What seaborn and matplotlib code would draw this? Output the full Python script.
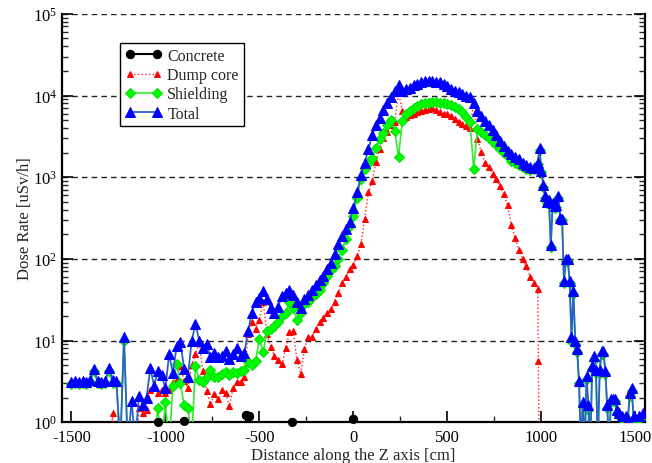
import matplotlib
matplotlib.use("Agg")
import matplotlib.pyplot as plt
import seaborn as sns
import pandas as pd
from matplotlib.ticker import MultipleLocator, LogLocator, NullFormatter

# ---------------- data ----------------
x_main = list(range(-1500, 941, 20)) + list(range(960, 1541, 10))

total = [
    3.1, 3.2, 3.1, 3.2, 3.1, 3.3, 4.5, 3.2, 3.1, 3.2,
    4.6, 3.3, 3.2, 0.5, 11, 0.5, 1.8, 0.6, 2.1, 1.6,
    2.0, 4.6, 2.8, 4.2, 3.8, 2.6, 6.8, 4.0, 8.5, 9.5,
    4.5, 3.6, 10, 16, 10, 8.0, 9.0, 6.2, 7.0, 6.3,
    6.5, 7.5, 6.0, 6.8, 8.0, 6.5, 7.0, 13, 22, 30,
    33, 40, 32, 25, 22, 26, 35, 38, 42, 36,
    30, 25, 32, 36, 42, 48, 55, 62, 75, 90,
    115, 150, 190, 230, 282, 420, 650, 1050, 1500, 2200,
    3300, 4300, 5300, 6600, 8000, 9500, 11500, 13500, 11500, 12000,
    12500, 13500, 14000, 14500, 15000, 15000, 15000, 14500, 14500, 14000,
    13000, 12000, 11500, 11000, 10500, 10000, 9500, 8000, 6500, 5600,
    4900, 4300, 3800, 3300, 2800, 2400, 2100, 1900, 1750, 1650,
    1500, 1400, 1320,
    # 960 .. 1540 step 10
    1300, 1350, 1500, 2250, 1200, 800, 580, 500, 520, 148,
    480, 440, 450, 590, 320, 310, 54, 100, 100, 54,
    11, 40, 9.8, 7.8, 3.2, 0.5, 1.75, 0.5, 3.7, 1.6,
    0.5, 4.9, 6.4, 4.4, 0.5, 4.4, 7.4, 7.4, 4.2, 1.6,
    0.5, 1.9, 1.9, 1.9, 1.4, 1.3, 0.5, 1.2, 0.5, 1.2,
    1.1, 2.3, 2.6, 1.2, 0.5, 0.5, 1.2, 0.5, 1.3,
]

shielding = [
    2.9, 3.0, 2.9, 3.0, 2.9, 3.1, 4.2, 3.0, 2.9, 3.0,
    4.2, 3.0, 3.0, 0.5, 10, 0.5, 0.5, 0.5, 0.5, 0.5,
    0.5, 0.5, 0.6, 1.5, 0.5, 1.75, 0.5, 2.8, 5.1, 3.0,
    1.6, 1.5, 0.6, 4.9, 3.3, 3.1, 3.6, 4.4, 3.6, 3.6,
    3.9, 4.1, 3.8, 4.1, 4.0, 4.2, 4.4, 5.4, 5.0, 5.6,
    10.4, 7.2, 13, 14, 15, 17, 20, 22, 30, 25,
    18, 22, 28, 30, 34, 37, 42, 50, 62, 72,
    81, 100, 130, 175, 250, 335, 560, 950, 1250, 1500,
    1700, 2300, 2900, 3500, 4300, 5000, 3700, 1770, 4900, 5900,
    6500, 7000, 7500, 7800, 8000, 8200, 8300, 8300, 8200, 8000,
    7900, 7600, 7200, 6800, 6300, 5500, 4750, 1260, 3900, 3600,
    3300, 3000, 2700, 2450, 2200, 2000, 1800, 1600, 1500, 1400,
    1320, 1260, 1220,
    # 960 .. 1540 step 10
    1250, 1300, 1450, 2150, 1150, 760, 560, 480, 500, 140,
    460, 420, 430, 560, 300, 300, 50, 95, 95, 50,
    10, 37, 9, 7.2, 3.0, 0.5, 1.6, 0.5, 3.4, 1.4,
    0.5, 4.5, 5.8, 4.0, 0.5, 4.0, 6.8, 6.8, 3.9, 1.5,
    0.5, 1.8, 1.8, 1.8, 1.3, 1.2, 0.5, 1.1, 0.5, 1.1,
    1.0, 2.1, 2.4, 1.1, 0.5, 0.5, 1.1, 0.5, 1.2,
]

x_dump = list(range(-1300, 981, 20)) + [984, 988]
dump_core = [
    0.3, 1.3, 0.3, 0.3, 0.3, 0.3, 0.3, 0.3, 1.5, 1.3,
    1.4, 2.5, 2.7, 2.3, 2.5, 2.3, 2.5, 3.1, 3.3, 4.9,
    3.2, 2.6, 5.0, 6.8, 9.5, 4.2, 2.4, 1.66, 2.2, 1.9,
    2.5, 2.3, 1.57, 2.6, 3.1, 3.1, 3.6, 12, 16.7, 14,
    18, 30, 12, 8.3, 6.5, 5.8, 5.1, 8.0, 12.6, 13,
    5.7, 3.9, 7.9, 11, 11, 14, 16.7, 19, 22, 24,
    30, 38, 50, 60, 75, 85, 108, 150, 310, 650,
    900, 1540, 2230, 3000, 3560, 4300, 4750, 11000, 6500, 5500,
    5800, 6000, 6300, 6500, 6700, 6900, 7000, 6600, 6300, 6000,
    5900, 5600, 5200, 4750, 4500, 4260, 4000, 8300, 2950, 2040,
    1500, 1350, 1100, 950, 780, 620, 450, 260, 180, 130,
    100, 81, 60, 50, 43,
    5.6, 0.3,
]

x_concrete = [-1050, -1040, -1030, -910, -900, -890, -580, -570, -555, -545,
              -335, -325, -315, -10, 0, 10]
concrete = [0.1, 1.0, 0.1, 0.1, 1.02, 0.1, 0.1, 1.22, 1.18, 0.1,
            0.1, 1.0, 0.1, 0.1, 1.08, 0.1]

df_main = pd.DataFrame({"z": x_main, "total": total, "shield": shielding})
df_dump = pd.DataFrame({"z": x_dump, "dump": dump_core})
df_conc = pd.DataFrame({"z": x_concrete, "conc": concrete})

# ---------------- style ----------------
sns.set_style("ticks")
plt.rcParams["font.family"] = ["Liberation Serif", "DejaVu Serif"]
plt.rcParams["mathtext.fontset"] = "custom"
plt.rcParams["mathtext.rm"] = "Liberation Serif"
plt.rcParams["mathtext.it"] = "Liberation Serif:italic"
plt.rcParams["axes.unicode_minus"] = False

fig = plt.figure(figsize=(6.52, 4.64), dpi=100)
ax = fig.add_axes([0.095, 0.088, 0.894, 0.880])
ax.set_yscale("log")

sns.lineplot(data=df_conc, x="z", y="conc", ax=ax, label="Concrete",
             color="black", lw=1.5, marker="o", markersize=6,
             markerfacecolor="black", markeredgecolor="black", zorder=3)
vis = df_conc[df_conc["conc"] >= 1]
sns.scatterplot(data=vis, x="z", y="conc", ax=ax, color="black", s=36,
                edgecolor="black", clip_on=False, zorder=6, legend=False)

sns.lineplot(data=df_dump, x="z", y="dump", ax=ax, label="Dump core",
             color="#ff2020", lw=1.0, linestyle=":", marker="^", markersize=4.5,
             markerfacecolor="red", markeredgecolor="red", zorder=4)
sns.lineplot(data=df_main, x="z", y="shield", ax=ax, label="Shielding",
             color="#33e833", lw=1.2, marker="D", markersize=5.5,
             markerfacecolor="#00ff00", markeredgecolor="#00e000", zorder=4)
sns.lineplot(data=df_main, x="z", y="total", ax=ax, label="Total",
             color="#2a62c8", lw=1.3, marker="^", markersize=7.5,
             markerfacecolor="blue", markeredgecolor="blue", zorder=5)

ax.set_xlim(-1550, 1550)
ax.set_ylim(1, 1e5)

ax.xaxis.set_major_locator(MultipleLocator(500))
ax.xaxis.set_minor_locator(MultipleLocator(250))
ax.yaxis.set_major_locator(LogLocator(base=10, numticks=10))
ax.yaxis.set_minor_locator(LogLocator(base=10, subs=range(2, 10), numticks=20))
ax.yaxis.set_minor_formatter(NullFormatter())

ax.tick_params(axis="both", which="major", direction="in", length=8, width=1.2,
               labelsize=12, right=True, top=False, colors="black")
ax.tick_params(axis="both", which="minor", direction="in", length=4, width=1.0,
               right=True, top=False)
ax.tick_params(axis="x", which="major", pad=5)

ax.yaxis.grid(True, which="major", linestyle=(0, (4, 3)), color="#222222", lw=1.0)
ax.xaxis.grid(False)
ax.set_axisbelow(True)

ax.spines["top"].set_visible(False)
for s in ["left", "bottom", "right"]:
    ax.spines[s].set_linewidth(1.6)
    ax.spines[s].set_color("black")

ax.set_xlabel("Distance along the Z axis [cm]", fontsize=12, labelpad=1)
ax.set_ylabel("Dose Rate [uSv/h]", fontsize=12, labelpad=0)

handles, labels = ax.get_legend_handles_labels()
leg = ax.legend(handles, labels, loc="upper left", bbox_to_anchor=(0.1, 0.928),
                fontsize=11.5, numpoints=2, handlelength=2.3, handletextpad=0.35,
                labelspacing=0.2, borderpad=0.3, frameon=True, fancybox=False,
                borderaxespad=0.0)
leg.get_frame().set_edgecolor("black")
leg.get_frame().set_linewidth(1.0)
leg.get_frame().set_alpha(1.0)

fig.savefig("out.png", dpi=100)
